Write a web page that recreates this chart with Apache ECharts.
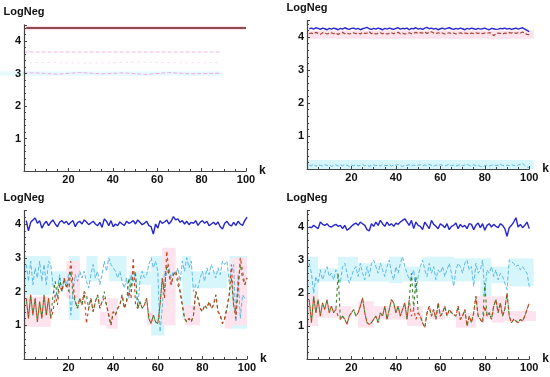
<!DOCTYPE html>
<html><head><meta charset="utf-8">
<script src="https://cdn.jsdelivr.net/npm/echarts@6/dist/echarts.min.js"></script>
<style>html,body{margin:0;padding:0;background:#fff}#c{width:550px;height:377px}</style>
</head><body><div id="c"></div>
<script>
// ---------- data ----------
const xTicks = [20, 40, 60, 80, 100];
const yTicks = [1, 2, 3, 4];
// panel 1 (top-left)
const p1Line = [4.4,4.4,4.4,4.4,4.4,4.4,4.4,4.4,4.4,4.4,4.4,4.4,4.4,4.4,4.4,4.4,4.4,4.4,4.4,4.4,
4.4,4.4,4.4,4.4,4.4,4.4,4.4,4.4,4.4,4.4,4.4,4.4,4.4,4.4,4.4,4.4,4.4,4.4,4.4,4.4,
4.4,4.4,4.4,4.4,4.4,4.4,4.4,4.4,4.4,4.4,4.4,4.4,4.4,4.4,4.4,4.4,4.4,4.4,4.4,4.4,
4.4,4.4,4.4,4.4,4.4,4.4,4.4,4.4,4.4,4.4,4.4,4.4,4.4,4.4,4.4,4.4,4.4,4.4,4.4,4.4,
4.4,4.4,4.4,4.4,4.4,4.4,4.4,4.4,4.4,4.4,4.4,4.4,4.4,4.4,4.4,4.4,4.4,4.4,4.4,4.4];
const p1GhostA = [[-11,3.66],[89,3.66]];
const p1GhostB = [[-11,3.33],[10,3.34],[30,3.32],[50,3.35],[70,3.33],[89,3.34]];
const p1GhostC = [[-11,3.0],[5,3.02],[15,2.98],[25,3.03],[35,2.99],[45,3.02],[55,2.97],[65,3.03],[75,2.99],[89,3.01]];
const p1PinkBands = [[0,100,4.33,4.47]];
const p1CyanBands = [[-11,89,2.93,3.07]];
// panel 2 (top-right)
const p2Blue = [4.25,4.27,4.24,4.28,4.26,4.23,4.27,4.25,4.22,4.26,4.24,4.27,4.25,4.22,4.26,4.24,4.28,4.25,4.23,4.26,
4.27,4.24,4.26,4.22,4.25,4.27,4.29,4.25,4.23,4.26,4.24,4.27,4.25,4.22,4.26,4.24,4.27,4.25,4.23,4.26,
4.28,4.24,4.26,4.25,4.27,4.22,4.26,4.25,4.28,4.24,4.26,4.23,4.27,4.29,4.25,4.27,4.24,4.26,4.22,4.25,
4.27,4.24,4.26,4.28,4.25,4.23,4.26,4.24,4.27,4.25,4.22,4.26,4.24,4.27,4.25,4.23,4.26,4.24,4.25,4.27,
4.24,4.22,4.26,4.25,4.23,4.24,4.26,4.25,4.27,4.24,4.26,4.23,4.25,4.27,4.24,4.26,4.28,4.24,4.20,4.16];
const p2Red = [4.10,4.12,4.09,4.14,4.11,4.08,4.13,4.12,4.09,4.11,4.13,4.10,4.12,4.08,4.11,4.14,4.10,4.12,4.09,4.11,
4.13,4.10,4.12,4.09,4.14,4.11,4.12,4.16,4.10,4.12,4.09,4.11,4.13,4.10,4.12,4.09,4.11,4.13,4.10,4.12,
4.14,4.10,4.12,4.09,4.11,4.13,4.10,4.12,4.14,4.11,4.13,4.12,4.15,4.11,4.14,4.16,4.12,4.10,4.13,4.11,
4.12,4.09,4.11,4.13,4.10,4.12,4.09,4.11,4.13,4.10,4.12,4.11,4.09,4.12,4.10,4.13,4.11,4.12,4.10,4.12,
4.11,4.13,4.12,4.04,4.10,4.12,4.11,4.09,4.12,4.11,4.13,4.12,4.14,4.11,4.13,4.12,4.15,4.11,4.08,4.07];
const p2Cyan = [0.12,0.10,0.15,0.08,0.13,0.11,0.09,0.14,0.10,0.12,0.08,0.11,0.13,0.09,0.12,0.10,0.14,0.11,0.08,0.12,
0.10,0.13,0.09,0.11,0.14,0.10,0.12,0.08,0.11,0.13,0.10,0.12,0.09,0.14,0.11,0.10,0.13,0.09,0.12,0.11,
0.14,0.10,0.08,0.12,0.11,0.13,0.09,0.12,0.10,0.11,0.13,0.09,0.12,0.10,0.14,0.11,0.08,0.12,0.10,0.13,
0.11,0.09,0.12,0.14,0.10,0.12,0.09,0.11,0.13,0.10,0.12,0.15,0.11,0.09,0.13,0.10,0.12,0.08,0.06,0.10,
0.12,0.09,0.11,0.13,0.10,0.12,0.14,0.11,0.09,0.12,0.10,0.13,0.11,0.09,0.12,0.14,0.18,0.10,0.06,0.04];
const p2PinkBands = [[0,102,3.95,4.2]];
const p2CyanBands = [[0,102,0,0.27]];
// panel 3 (bottom-left)
const p3Blue = [4.10,3.80,4.05,4.12,4.18,4.02,4.10,3.88,4.00,4.08,3.95,4.05,4.12,4.00,3.92,4.06,4.10,4.02,4.08,3.98,
4.05,4.10,3.92,4.04,4.08,4.00,4.12,4.06,3.98,4.03,4.08,4.00,3.95,4.05,3.90,4.15,4.08,3.95,4.10,3.92,
4.00,3.95,4.06,4.00,3.96,4.08,4.02,4.05,4.10,4.00,4.12,4.05,3.98,4.02,4.08,3.95,3.92,3.70,4.00,3.88,
4.10,4.02,4.06,4.12,4.00,4.08,4.22,4.12,4.15,4.05,4.10,4.00,4.08,3.98,4.05,4.02,4.10,3.96,4.05,4.10,
4.02,4.08,3.95,4.00,4.05,3.98,4.06,3.92,3.85,4.02,4.08,3.98,3.94,4.05,3.96,4.08,4.00,3.96,4.10,4.20];
const p3Red = [1.8,1.2,1.9,1.3,1.8,1.1,1.7,1.2,1.9,1.3,1.8,1.2,1.4,1.9,1.6,2.2,2.0,2.4,2.1,2.3,
2.9,2.2,1.7,1.5,1.8,1.6,2.0,1.05,1.5,1.8,1.4,1.7,1.9,1.5,1.7,1.8,1.6,1.3,1.0,1.4,
1.3,1.5,1.6,1.9,1.5,1.7,2.0,1.8,3.0,1.6,1.5,1.7,1.5,1.6,1.8,1.2,1.05,1.3,1.1,1.05,
1.6,2.4,1.8,3.2,2.6,2.2,2.5,2.6,2.4,2.0,1.6,1.2,1.1,1.2,1.1,1.3,2.0,1.8,1.5,1.4,
1.6,1.5,1.7,1.5,1.6,1.9,1.4,1.3,1.05,1.2,1.5,1.9,2.8,1.6,1.2,2.0,3.0,2.6,2.2,2.4];
const p3Green = [1.8,1.2,1.9,1.3,1.8,1.1,1.7,1.2,1.9,1.3,1.8,1.2,1.9,2.3,1.8,2.4,2.0,2.3,2.2,2.0,
2.6,1.9,1.7,1.5,1.8,1.6,2.0,1.9,1.5,1.8,1.4,1.7,1.9,1.5,1.7,2.0,1.6,1.3,1.0,1.4,
1.3,1.5,1.6,1.9,1.5,1.7,2.4,2.0,2.6,2.5,1.5,1.7,1.5,1.6,1.8,1.2,1.05,1.3,1.1,1.05,
1.6,2.4,2.0,2.8,2.5,2.2,2.5,2.6,2.2,2.0,1.6,1.2,1.1,1.2,1.1,1.3,2.0,1.8,1.5,1.4,
1.6,1.5,1.7,1.5,1.6,1.9,1.4,1.3,1.05,1.2,1.5,1.9,2.4,1.6,1.4,2.2,2.8,2.4,2.2,2.4];
const p3Cyan = [2.8,2.3,2.9,2.2,2.7,2.4,2.9,2.3,2.8,2.2,2.9,2.8,2.2,1.8,2.1,2.5,2.0,2.4,2.2,2.5,
1.3,2.0,2.5,2.3,2.6,2.4,2.6,2.3,2.1,2.5,2.8,2.4,2.6,2.2,2.5,2.9,2.6,3.0,2.8,2.7,
2.6,2.4,2.6,2.3,2.1,2.4,1.8,2.5,2.3,2.6,1.5,2.3,2.6,2.4,2.5,2.8,3.0,2.7,2.9,2.6,
0.8,1.5,2.6,2.5,2.7,2.4,2.6,2.5,2.7,2.3,2.9,2.6,3.0,2.7,2.9,2.0,2.2,2.1,2.4,2.6,
2.3,2.7,2.5,2.8,2.6,2.4,2.7,2.5,2.9,2.8,2.9,2.3,2.6,2.8,1.1,2.5,1.2,1.9,1.8,1.8];
const p3CyanBands = [[0,12,1.9,3.05],[12,20,2.2,2.6],[20,25,1.15,3.05],[28,33,2.3,3.05],[38,46,2.3,3.05],
[47,57,2.2,2.6],[57,63,0.7,3.05],[71,75,1.2,3.05],[75,91,2.1,2.6],[92,100,0.9,3.05]];
const p3PinkBands = [[0,12,0.95,1.85],[19,25,1.8,2.9],[34,37,1.0,1.4],[37,42,0.9,1.8],[55,58,1.0,1.4],
[62,68,1.0,3.3],[72,79,1.0,1.6],[90,93,0.9,1.4],[93,100,1.0,3.0]];
// panel 4 (bottom-right)
const p4Blue = [4.00,3.98,4.05,4.00,3.95,4.15,4.08,4.05,4.10,4.02,4.00,4.05,4.08,4.02,4.05,3.95,4.05,3.90,3.95,4.02,
4.08,4.12,4.05,4.15,4.10,4.05,3.92,3.88,4.10,4.02,4.15,4.05,4.20,4.10,4.02,4.15,4.05,4.10,4.02,4.12,
4.08,4.15,4.20,4.25,4.15,4.05,4.20,3.95,4.15,4.05,4.02,3.92,4.15,4.05,3.95,4.20,4.08,4.02,3.95,4.10,
4.05,3.98,4.10,3.92,4.02,4.05,4.12,3.95,4.08,4.00,4.05,3.95,4.10,4.08,3.92,4.05,4.12,3.98,4.10,3.90,
4.05,4.10,4.00,4.08,4.02,3.98,4.10,4.05,3.95,3.72,3.98,4.05,4.15,4.28,4.00,4.08,3.98,4.05,4.15,3.95];
const p4Cyan = [2.9,2.6,2.0,2.5,2.3,2.7,2.4,2.6,2.8,2.5,2.6,2.4,2.7,2.5,2.3,2.8,2.9,2.6,2.3,2.5,
2.7,2.8,2.5,2.9,2.6,2.4,2.8,2.5,2.9,3.0,2.8,2.6,2.9,2.7,2.5,2.8,3.0,2.6,2.4,2.8,
2.6,2.9,3.1,2.8,2.6,2.4,2.5,2.7,2.0,2.5,2.8,3.0,2.7,2.5,2.9,2.6,2.8,2.4,2.7,2.6,
2.8,2.5,2.7,2.9,2.6,2.2,2.7,2.9,2.8,2.6,2.9,3.0,2.7,2.8,2.2,2.9,2.6,2.7,3.0,2.0,
2.7,2.6,2.8,2.5,2.7,2.4,2.6,2.5,2.3,2.1,3.0,2.95,2.9,2.8,2.85,2.7,2.8,2.7,2.6,2.2];
const p4Red = [1.8,1.1,1.9,1.4,1.8,1.3,1.7,1.5,1.8,1.4,1.6,1.4,1.5,1.3,1.2,1.3,1.2,1.05,1.3,1.4,
1.5,1.3,1.4,1.6,1.85,1.4,1.1,1.05,1.1,1.2,1.3,1.1,1.4,1.3,1.6,1.2,1.5,1.8,1.7,1.4,
1.6,1.3,1.5,1.7,1.2,1.8,1.3,1.5,1.2,1.4,1.3,1.1,0.95,1.4,1.6,1.3,1.5,1.2,1.7,1.3,
1.4,1.6,1.3,1.5,1.4,1.35,1.3,1.6,1.2,1.3,1.5,1.0,1.3,1.1,1.4,1.9,1.3,1.2,1.1,1.6,
1.3,1.4,1.2,1.6,1.8,1.4,1.7,1.3,1.5,2.0,1.3,1.1,1.2,1.15,1.1,1.2,1.15,1.3,1.5,1.7];
const p4Green = [1.8,1.1,1.9,1.4,1.8,1.3,1.7,1.5,1.8,1.4,1.6,1.4,1.5,2.6,1.2,1.3,1.2,1.05,1.3,1.4,
1.5,1.3,1.4,1.6,1.85,1.4,1.1,1.05,1.1,1.2,1.3,1.1,1.4,1.3,1.6,1.2,1.5,1.8,1.7,1.4,
1.6,1.3,1.5,1.7,1.2,1.8,2.6,1.5,2.5,1.4,1.3,1.1,0.95,1.4,1.6,1.3,1.5,1.2,1.7,1.3,
1.4,1.6,1.3,1.5,1.4,1.35,1.3,1.6,1.2,1.3,1.5,1.0,1.3,1.1,1.4,1.9,1.3,1.2,1.1,2.3,
1.3,1.4,1.2,1.6,1.8,1.4,1.7,1.3,1.5,2.0,1.3,1.1,1.2,1.15,1.1,1.2,1.15,1.3,1.5,1.7];
const p4CyanBands = [[0,5,1.85,3.1],[5,14,2.35,2.75],[14,23,2.35,3.1],[23,37,2.35,2.9],[37,43,2.3,3.1],
[43,52,2.35,2.8],[52,66,2.35,3.1],[66,78,2.35,3.05],[78,83,1.9,3.05],[83,91,2.3,2.8],[91,102,2.2,3.05]];
const p4PinkBands = [[0,5,1.0,1.95],[5,20,1.25,1.6],[23,30,0.95,1.75],[30,45,1.2,1.6],[45,52,1.0,1.6],
[55,62,1.2,1.5],[67,76,0.95,1.4],[76,83,1.2,1.9],[83,89,1.1,1.9],[89,103,1.15,1.45]];

// ---------- build ----------
const pair = arr => arr.map((v, i) => [i + 1, v]);
const FONT = '"Liberation Sans", Arial, sans-serif';
const grids = [
  {left: 24, top: 24.75, width: 222, height: 146.25, ymax: 4.5},
  {left: 307, top: 20.5, width: 223, height: 148.5, ymax: 4.5},
  {left: 24, top: 210.5, width: 223, height: 148.5, ymax: 4.4},
  {left: 307, top: 210.5, width: 223, height: 148.5, ymax: 4.5}
];
const axisCol = '#444';
const xAxes = grids.map((g, i) => ({
  type: 'value', gridIndex: i, min: 0, max: 100, interval: 20, z: 10,
  name: 'k', nameLocation: 'end', nameGap: 5,
  nameTextStyle: {fontFamily: FONT, fontWeight: 'bold', fontSize: 12, color: '#111', verticalAlign: 'middle', padding: [0,0,6,0]},
  axisLine: {show: true, onZero: false, lineStyle: {color: axisCol, width: 1.2}},
  axisTick: {show: true, inside: true, length: 3, lineStyle: {color: axisCol}},
  minorTick: {show: true, splitNumber: 4, length: 2, lineStyle: {color: axisCol}},
  splitLine: {show: false}, minorSplitLine: {show: false},
  axisLabel: {fontFamily: FONT, fontWeight: 'bold', fontSize: 11, color: '#111', margin: 3,
    formatter: v => xTicks.includes(v) ? String(v) : ''}
}));
const yAxes = grids.map((g, i) => ({
  type: 'value', gridIndex: i, min: 0, max: g.ymax, interval: 1, z: 10,
  name: 'LogNeg', nameLocation: 'end', nameGap: 7,
  nameTextStyle: {fontFamily: FONT, fontWeight: 'bold', fontSize: 11, color: '#111', align: 'center'},
  axisLine: {show: true, onZero: false, lineStyle: {color: axisCol, width: 1.2}},
  axisTick: {show: true, inside: true, length: 3, lineStyle: {color: axisCol}},
  minorTick: {show: true, splitNumber: 5, length: 2, lineStyle: {color: axisCol}},
  splitLine: {show: false}, minorSplitLine: {show: false},
  axisLabel: {fontFamily: FONT, fontWeight: 'bold', fontSize: 11, color: '#111', margin: 3,
    formatter: v => yTicks.includes(v) ? String(v) : ''}
}));

function bands(gi, data, color, clip) {
  return {
    type: 'custom', xAxisIndex: gi, yAxisIndex: gi, z: 1, silent: true, clip: !!clip,
    encode: {x: [0, 1], y: [2, 3]},
    data: data,
    renderItem: (params, api) => {
      const p0 = api.coord([api.value(0), api.value(3)]);
      const p1 = api.coord([api.value(1), api.value(2)]);
      return {type: 'rect', shape: {x: p0[0], y: p0[1], width: p1[0] - p0[0], height: p1[1] - p0[1]},
        style: {fill: color}};
    }
  };
}
function line(gi, data, color, width, dash, offset, extra) {
  return Object.assign({
    type: 'line', xAxisIndex: gi, yAxisIndex: gi, z: 3, symbol: 'none', silent: true,
    data: data, animation: false,
    lineStyle: {color: color, width: width, type: dash || 'solid', dashOffset: offset || 0}
  }, extra || {});
}
const PINK = '#fde3ed', CYAN = '#d7f6fb';
const BLUE = '#2626d2', SKY = '#5fb8e8', RED = '#c8401c', GREEN = '#3c7f2c';

const series = [
  // panel 1
  bands(0, p1PinkBands, PINK),
  bands(0, p1CyanBands, '#e6fafd', false),
  line(0, p1GhostA, '#f2b6ee', 1, [4, 2], 0, {clip: false}),
  line(0, p1GhostB, '#f6d8f0', 1, [2, 4], 0, {clip: false}),
  line(0, p1GhostC, '#f0a8e6', 1, [4, 2], 0, {clip: false}),
  line(0, pair(p1Line), '#6a1a1a', 1.6),
  // panel 2
  bands(1, p2PinkBands, PINK),
  bands(1, p2CyanBands, CYAN),
  line(1, pair(p2Cyan), SKY, 1, [4, 2]),
  line(1, pair(p2Red), '#a8442a', 1.2, [4, 2]),
  line(1, pair(p2Blue), BLUE, 1.4),
  // panel 3
  bands(2, p3CyanBands, CYAN),
  bands(2, p3PinkBands, PINK),
  line(2, pair(p3Cyan), SKY, 1, [4, 2]),
  line(2, pair(p3Green), GREEN, 1.1, [3, 3], 3),
  line(2, pair(p3Red), RED, 1.1, [3, 3]),
  line(2, pair(p3Blue), BLUE, 1.4),
  // panel 4
  bands(3, p4CyanBands, CYAN),
  bands(3, p4PinkBands, PINK),
  line(3, pair(p4Cyan), SKY, 1, [4, 2]),
  line(3, pair(p4Green), GREEN, 1.1, [3, 3], 3),
  line(3, pair(p4Red), RED, 1.1, [3, 3]),
  line(3, pair(p4Blue), BLUE, 1.4)
];

const chart = echarts.init(document.getElementById('c'), null, {renderer: 'canvas'});
chart.setOption({
  animation: false,
  backgroundColor: '#fff',
  grid: grids.map(g => ({left: g.left, top: g.top, width: g.width, height: g.height, containLabel: false})),
  xAxis: xAxes,
  yAxis: yAxes,
  series: series
});
</script></body></html>
